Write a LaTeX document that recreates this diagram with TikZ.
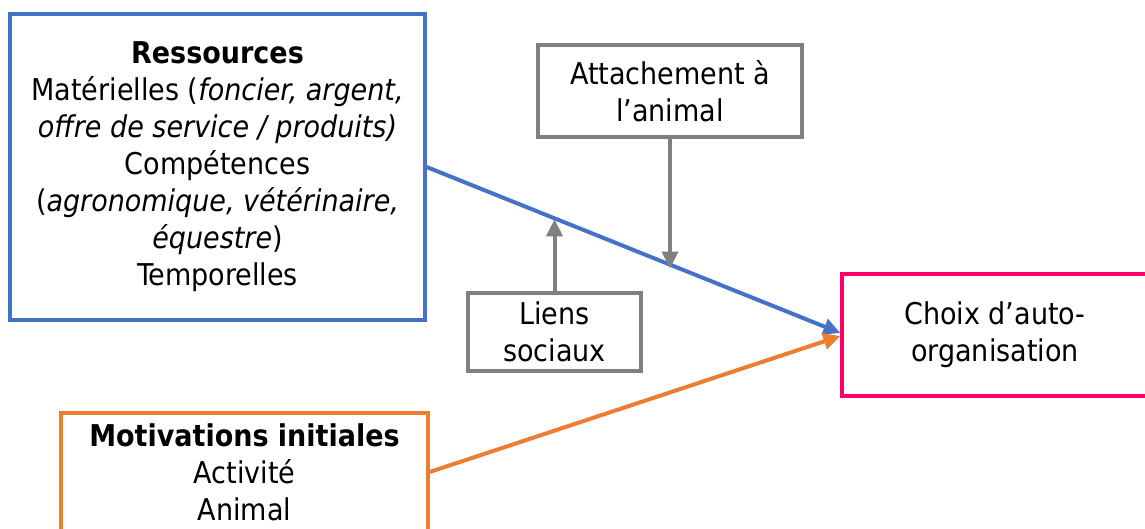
\documentclass[tikz,border=0pt]{standalone}
\usepackage{fontspec}
\setmainfont{DejaVu Sans Condensed}
\usetikzlibrary{arrows.meta,calc}
\definecolor{cblue}{HTML}{4472C4}
\definecolor{corange}{HTML}{ED7D31}
\definecolor{cpink}{HTML}{FF0066}
\definecolor{cgray}{HTML}{808080}
\begin{document}
\begin{tikzpicture}[x=1pt,y=-1pt,
  box/.style={draw, line width=3.2pt, rectangle, align=center, inner sep=0pt,
    font=\fontsize{30}{37}\selectfont},
  conn/.style={line width=4pt, -{Triangle[length=17pt,width=16pt]}}]
\useasboundingbox (0,0) rectangle (1145,528);
\node[box, draw=cblue, minimum width=415pt, minimum height=306pt] (res) at (217.5,167)
  {\textbf{Ressources}\\Matérielles (\textit{foncier, argent,}\\\textit{offre de service / produits)}\\Compétences\\(\textit{agronomique, vétérinaire,}\\\textit{équestre})\\Temporelles};
\node[box, draw=corange, minimum width=367pt, minimum height=118pt] (mot) at (244.5,472)
  {\textbf{Motivations initiales}\\Activité\\Animal};
\node[box, draw=cpink, minimum width=306pt, minimum height=122pt] (choix) at (995,335)
  {Choix d’auto-\\organisation};
\node[box, draw=cgray, minimum width=264pt, minimum height=92pt] (att) at (670,91)
  {Attachement à\\l’animal};
\node[box, draw=cgray, minimum width=173pt, minimum height=78pt] (lien) at (554.5,332)
  {Liens\\sociaux};
\draw[conn, draw=cblue, fill=cblue] (res.east) -- ($(choix.west)+(0,-2)$) coordinate (bend);
\draw[conn, draw=corange, fill=corange] (mot.east) -- ($(choix.west)+(0,1)$);
\coordinate (pa) at ($(res.east)!0.5875!(bend)$);
\coordinate (pl) at ($(res.east)!0.309!(bend)$);
\draw[conn, draw=cgray, fill=cgray] (att.south) -- ($(att.south |- pa)+(0,4)$);
\draw[conn, draw=cgray, fill=cgray] (lien.north) -- ($(lien.north |- pl)+(0,1)$);
\end{tikzpicture}
\end{document}
